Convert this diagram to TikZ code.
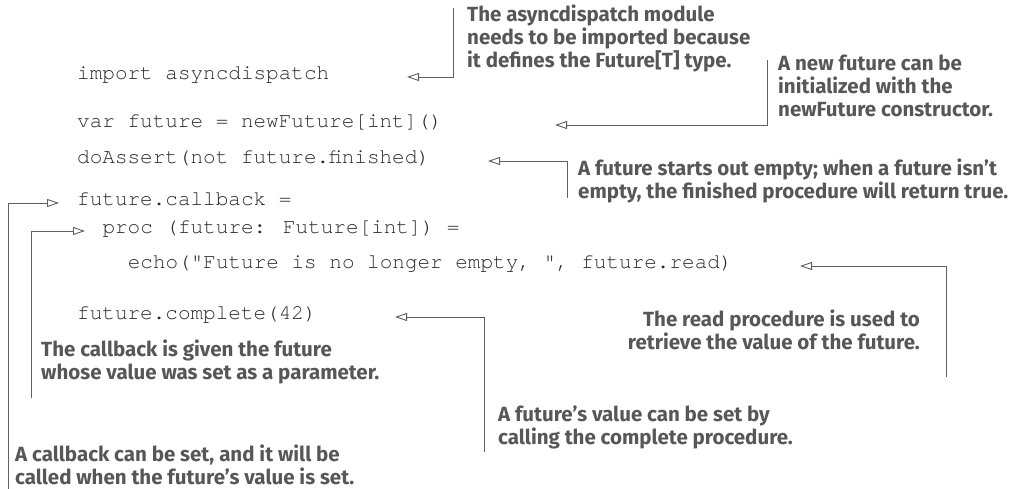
\documentclass[tikz,border=0pt]{standalone}
\usepackage{fontspec}
\usetikzlibrary{arrows.meta}
\newfontfamily\annfont{Fira Sans}
\newfontfamily\codefont{TeX Gyre Cursor}
\definecolor{anncol}{HTML}{575757}
\definecolor{linecol}{HTML}{606060}
\definecolor{codecol}{HTML}{2A2A2A}
\tikzset{
  codeline/.style={anchor=mid west, inner sep=0pt, text=codecol,
    font=\codefont\fontsize{21}{25}\selectfont},
  ann/.style={anchor=north west, inner sep=0pt, align=left, text=anncol,
    font=\annfont\bfseries\fontsize{20.5}{22.8}\selectfont},
  annr/.style={ann, anchor=north east, align=right},
  conn/.style={draw=linecol, line width=0.9pt,
    -{Triangle[open, length=12pt, width=8pt]}}
}
\begin{document}
\begin{tikzpicture}[x=1pt, y=-1pt]
\useasboundingbox[fill=white] (0,0) rectangle (1023,489);
% code
\node[codeline] (c1) at (77,77)  {import asyncdispatch};
\node[codeline] (c2) at (77,125) {var future = newFuture[int]()};
\node[codeline] (c3) at (77,161) {doAssert(not future.finished)};
\node[codeline] (c4) at (77,203) {future.callback =};
\node[codeline] (c5) at (102.3,231) {proc (future: Future[int]) =};
\node[codeline] (c6) at (127.6,266) {echo("Future is no longer empty, ", future.read)};
\node[codeline] (c7) at (77,317) {future.complete(42)};
% annotations
\node[ann] (nA) at (467,5) {The asyncdispatch module\\needs to be imported because\\it defines the Future[T] type.};
\node[ann] (nB) at (778,55) {A new future can be\\initialized with the\\newFuture constructor.};
\node[ann] (nC) at (578,159) {A future starts out empty; when a future isn’t\\empty, the finished procedure will return true.};
\node[annr] (nD) at (920,310) {The read procedure is used to\\retrieve the value of the future.};
\node[ann] (nE) at (498,406) {A future’s value can be set by\\calling the complete procedure.};
\node[ann] (nF) at (41,340) {The callback is given the future\\whose value was set as a parameter.};
\node[ann] (nG) at (15,445) {A callback can be set, and it will be\\called when the future’s value is set.};
% connector coordinates
\coordinate (aS) at (453,8);    \coordinate (aT) at (407,77);
\coordinate (bS) at (767,60);   \coordinate (bT) at (555,125);
\coordinate (cS) at (567,198);  \coordinate (cT) at (488,161);
\coordinate (dS) at (946,377);  \coordinate (dT) at (800,266);
\coordinate (eS) at (484,452);  \coordinate (eT) at (395,317);
\coordinate (fS) at (31,398);   \coordinate (fT) at (85,231);
\coordinate (gS) at (8,489);    \coordinate (gT) at (59,203);
\draw[conn] (aS) |- (aT);
\draw[conn] (bS) |- (bT);
\draw[conn] (cS) |- (cT);
\draw[conn] (dS) |- (dT);
\draw[conn] (eS) |- (eT);
\draw[conn] (fS) |- (fT);
\draw[conn] (gS) |- (gT);
\end{tikzpicture}
\end{document}
